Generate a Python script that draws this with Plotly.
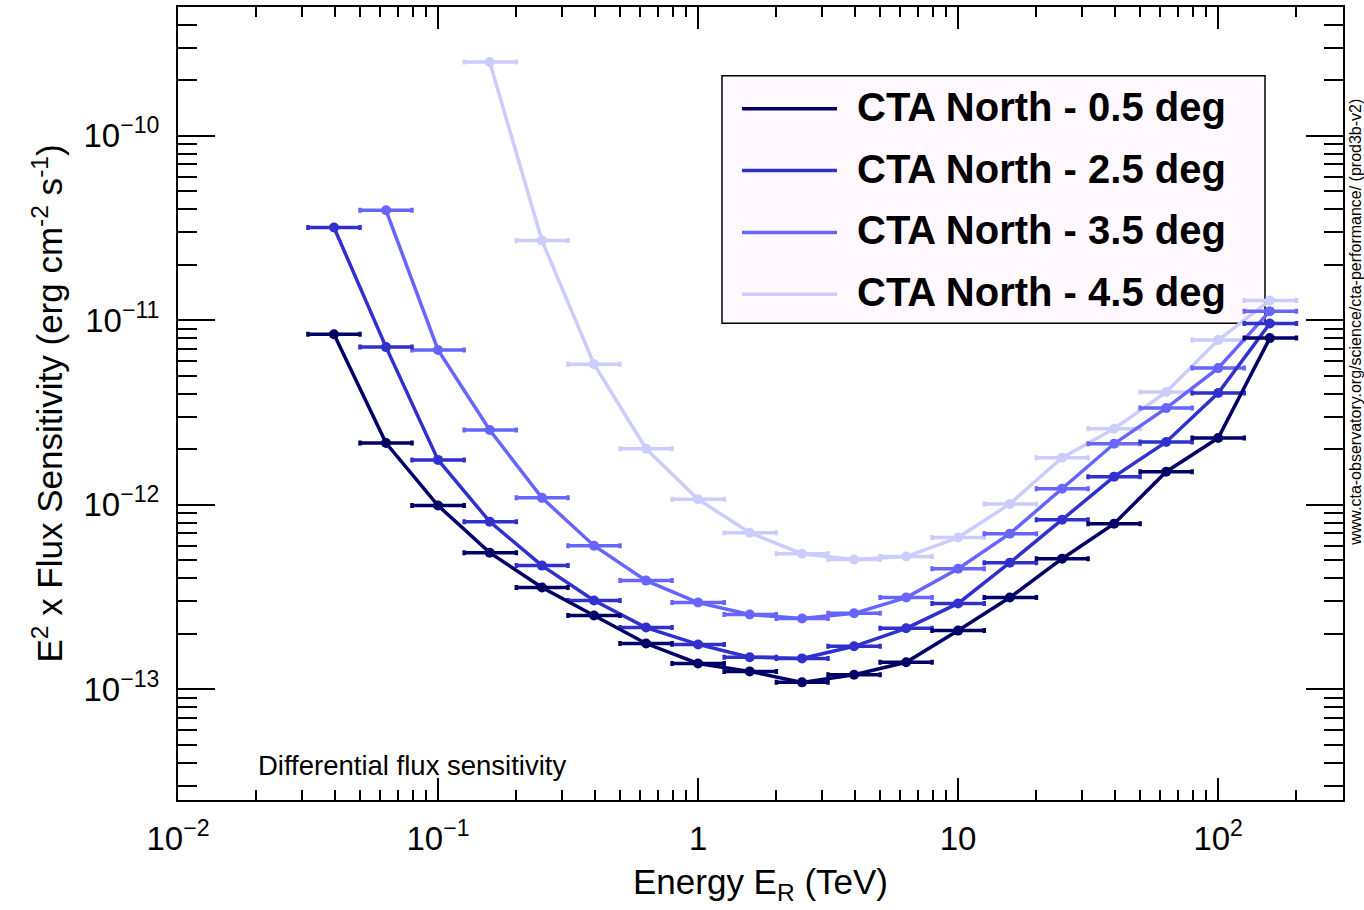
import plotly.graph_objects as go

# ---------------- data ----------------
energy_tev = [0.0398, 0.0631, 0.1, 0.158, 0.251, 0.398, 0.631, 1.0, 1.58, 2.51,
              3.98, 6.31, 10.0, 15.8, 25.1, 39.8, 63.1, 100.0, 158.0]
bin_low = [0.0316, 0.0501, 0.0794, 0.126, 0.2, 0.316, 0.501, 0.794, 1.26, 2.0,
           3.16, 5.01, 7.94, 12.6, 20.0, 31.6, 50.1, 79.4, 126.0]
bin_high = [0.0501, 0.0794, 0.126, 0.2, 0.316, 0.501, 0.794, 1.26, 2.0, 3.16,
            5.01, 7.94, 12.6, 20.0, 31.6, 50.1, 79.4, 126.0, 200.0]

sens_05 = [8.4e-12, 2.16e-12, 9.9e-13, 5.5e-13, 3.56e-13, 2.51e-13, 1.77e-13, 1.38e-13,
           1.25e-13, 1.09e-13, 1.2e-13, 1.4e-13, 2.08e-13, 3.14e-13, 5.1e-13, 7.9e-13,
           1.51e-12, 2.3e-12, 8.0e-12]
sens_25 = [3.18e-11, 7.15e-12, 1.75e-12, 8.1e-13, 4.68e-13, 3.03e-13, 2.16e-13, 1.75e-13,
           1.49e-13, 1.47e-13, 1.71e-13, 2.14e-13, 2.92e-13, 4.85e-13, 8.3e-13, 1.42e-12,
           2.19e-12, 4.03e-12, 9.6e-12]
sens_35 = [None, 3.94e-11, 6.9e-12, 2.54e-12, 1.09e-12, 6.0e-13, 3.88e-13, 2.95e-13,
           2.54e-13, 2.42e-13, 2.58e-13, 3.14e-13, 4.5e-13, 6.97e-13, 1.22e-12, 2.14e-12,
           3.34e-12, 5.5e-12, 1.12e-11]
sens_45 = [None, None, None, 2.51e-10, 2.7e-11, 5.78e-12, 2.01e-12, 1.07e-12,
           7.06e-13, 5.43e-13, 5.05e-13, 5.24e-13, 6.64e-13, 1.01e-12, 1.8e-12, 2.58e-12,
           4.08e-12, 7.8e-12, 1.28e-11]

series_names = ["CTA North - 0.5 deg", "CTA North - 2.5 deg",
                "CTA North - 3.5 deg", "CTA North - 4.5 deg"]
series_values = [sens_05, sens_25, sens_35, sens_45]
series_colors = ["#000066", "#3030cc", "#6666ff", "#ccccff"]

x_tickvals = [0.01, 0.1, 1, 10, 100]
x_ticktext = ["10<sup>\u22122</sup>", "10<sup>\u22121</sup>", "1", "10", "10<sup>2</sup>"]
y_tickvals = [1e-13, 1e-12, 1e-11, 1e-10]
y_ticktext = ["10<sup>\u221213</sup>", "10<sup>\u221212</sup>",
              "10<sup>\u221211</sup>", "10<sup>\u221210</sup>"]

# ---------------- figure ----------------
FONT = "Liberation Sans, Arial, Helvetica, sans-serif"
W, H = 1364, 910
ML, MR, MT, MB = 178, 21, 5, 110

err_plus = [hi - e for e, hi in zip(energy_tev, bin_high)]
err_minus = [e - lo for e, lo in zip(energy_tev, bin_low)]

fig = go.Figure()
for name, vals, col in reversed(list(zip(series_names, series_values, series_colors))):
    fig.add_trace(go.Scatter(
        x=energy_tev, y=vals, name=name, mode="lines+markers",
        line=dict(color=col, width=3.5),
        marker=dict(color=col, size=10),
        error_x=dict(type="data", symmetric=False, array=err_plus,
                     arrayminus=err_minus, color=col, thickness=3.5, width=2.5),
        showlegend=False,
    ))

minor_x = [m * 10 ** d for d in range(-2, 3) for m in range(2, 10)]
minor_y = [m * 10 ** d for d in range(-14, -9) for m in range(2, 10)]

fig.update_xaxes(
    type="log", range=[-2, 2.48],
    tickmode="array", tickvals=x_tickvals, ticktext=x_ticktext,
    ticks="inside", ticklen=22, tickwidth=1.5, tickcolor="black",
    minor=dict(tickmode="array", tickvals=minor_x, ticks="inside", ticklen=10,
               tickwidth=1.5, tickcolor="black", showgrid=False),
    showline=True, linecolor="black", linewidth=2, mirror="allticks",
    showgrid=False, zeroline=False,
    tickfont=dict(family=FONT, size=33, color="black"),
    ticklabelstandoff=8,
    title=dict(text="Energy E<sub>R</sub> (TeV)", font=dict(family=FONT, size=35, color="black"),
               standoff=14),
)
fig.update_yaxes(
    type="log", range=[-13.6, -9.3027],
    tickmode="array", tickvals=y_tickvals, ticktext=y_ticktext,
    ticks="inside", ticklen=37, tickwidth=1.5, tickcolor="black",
    minor=dict(tickmode="array", tickvals=minor_y, ticks="inside", ticklen=19,
               tickwidth=1.5, tickcolor="black", showgrid=False),
    showline=True, linecolor="black", linewidth=2, mirror="allticks",
    showgrid=False, zeroline=False,
    tickfont=dict(family=FONT, size=33, color="black"),
    ticklabelstandoff=10,
    title=dict(text="E<sup>2</sup> x Flux Sensitivity (erg cm<sup>-2</sup> s<sup>-1</sup>)",
               font=dict(family=FONT, size=35, color="black"), standoff=10),
)

pw, ph = W - ML - MR, H - MT - MB
def px(x):
    return (x - ML) / pw
def py(y):
    return (H - MB - y) / ph

shapes = [dict(type="rect", xref="paper", yref="paper",
               x0=px(722), x1=px(1265), y0=py(322), y1=py(74),
               fillcolor="#fff9ff", line=dict(color="black", width=1.5), layer="below")]
annotations = []
row_y = [107, 169, 231, 293]
for name, col, ry in zip(series_names, series_colors, row_y):
    shapes.append(dict(type="line", xref="paper", yref="paper",
                       x0=px(742), x1=px(837), y0=py(ry), y1=py(ry),
                       line=dict(color=col, width=3.5)))
    annotations.append(dict(xref="paper", yref="paper", x=px(855), y=py(ry - 2),
                            xanchor="left", yanchor="middle", showarrow=False,
                            text="<b>%s</b>" % name,
                            font=dict(family=FONT, size=40, color="black")))

annotations.append(dict(xref="paper", yref="paper", x=px(256), y=py(765),
                        xanchor="left", yanchor="middle", showarrow=False,
                        text="Differential flux sensitivity",
                        font=dict(family=FONT, size=27.5, color="black")))
annotations.append(dict(xref="paper", yref="paper", x=px(1345), y=py(95),
                        xanchor="left", yanchor="top", showarrow=False, textangle=-90,
                        text="www.cta-observatory.org/science/cta-performance/ (prod3b-v2)",
                        font=dict(family=FONT, size=16, color="black")))

fig.update_layout(
    width=W, height=H,
    margin=dict(l=ML, r=MR, t=MT, b=MB, pad=0),
    paper_bgcolor="white", plot_bgcolor="white",
    shapes=shapes, annotations=annotations,
    showlegend=False,
)

fig.write_html("out.html")
